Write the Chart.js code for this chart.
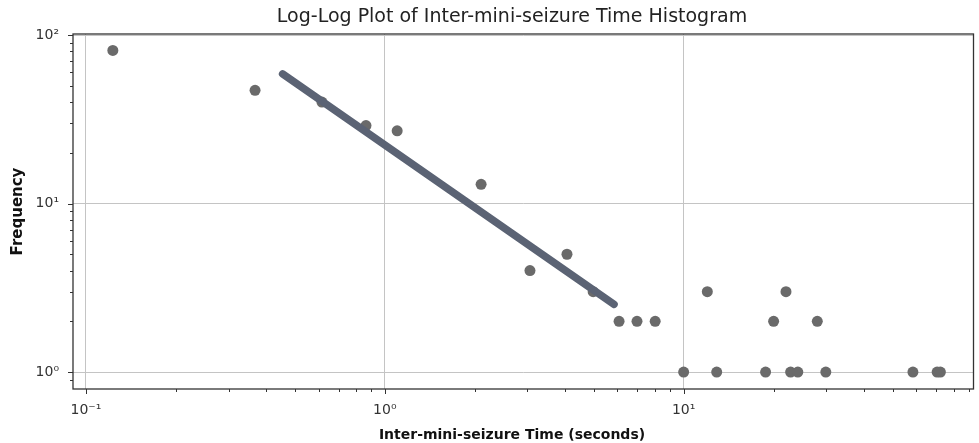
<!DOCTYPE html>
<html>
<head>
<meta charset="utf-8">
<script src="https://cdn.jsdelivr.net/npm/chart.js@4/dist/chart.umd.min.js"></script>
<style>
  html, body { margin: 0; padding: 0; background: #fff; }
  #wrap { width: 979px; height: 443px; }
</style>
</head>
<body>
<div id="wrap"><canvas id="chart" width="979" height="443"></canvas></div>
<script>
// inter-event times (seconds) and histogram counts
const times = [0.123, 0.368, 0.616, 0.865, 1.10, 2.10, 3.06, 4.07, 4.98, 6.08, 6.98, 8.03,
               10.0, 12.0, 12.9, 18.8, 20.0, 22.0, 22.8, 24.1, 28.0, 29.9, 58.5, 70.5, 72.3];
const counts = [81, 47, 40, 29, 27, 13, 4, 5, 3, 2, 2, 2,
                1, 3, 1, 1, 2, 3, 1, 1, 2, 1, 1, 1, 1];

// power-law fit, end points
const fitX = [0.455, 5.85];
const fitY = [58.8, 2.52];

const xTickLabels = { '-1': '10\u207B\u00B9', '0': '10\u2070', '1': '10\u00B9' };
const yTickLabels = { '0': '10\u2070', '1': '10\u00B9', '2': '10\u00B2' };

const titleText = 'Log-Log Plot of Inter-mini-seizure Time Histogram';
const xTitle = 'Inter-mini-seizure Time (seconds)';
const yTitle = 'Frequency';

function decade(v) {
    const e = Math.log10(v);
    return Math.abs(e - Math.round(e)) < 1e-6 ? Math.round(e) : null;
}

function isWholeMantissa(v) {
    const m = v / Math.pow(10, Math.floor(Math.log10(v) + 1e-9));
    return Math.abs(m - Math.round(m)) < 1e-6;
}

// frame, tick marks (major + minor) and the two centred titles
const frame = {
    id: 'frame',
    afterDraw(chart) {
        const ctx = chart.ctx;
        const a = chart.chartArea;
        ctx.save();
        ctx.strokeStyle = '#333';
        ctx.lineWidth = 1.3;
        ctx.strokeRect(a.left, a.top, a.right - a.left, a.bottom - a.top);

        ctx.lineWidth = 1;
        const xs = chart.scales.x;
        xs.ticks.forEach(t => {
            if (!isWholeMantissa(t.value)) return;
            const len = decade(t.value) !== null ? 5 : 3;
            const px = Math.round(xs.getPixelForValue(t.value)) + 0.5;
            ctx.beginPath();
            ctx.moveTo(px, a.bottom);
            ctx.lineTo(px, a.bottom + len);
            ctx.stroke();
        });
        const ys = chart.scales.y;
        ys.ticks.forEach(t => {
            if (!isWholeMantissa(t.value)) return;
            const len = decade(t.value) !== null ? 5 : 3;
            const py = Math.round(ys.getPixelForValue(t.value)) + 0.5;
            ctx.beginPath();
            ctx.moveTo(a.left, py);
            ctx.lineTo(a.left - len, py);
            ctx.stroke();
        });

        ctx.fillStyle = '#222';
        ctx.textAlign = 'center';
        ctx.textBaseline = 'middle';
        ctx.font = '19px "DejaVu Sans"';
        ctx.fillText(titleText, 512, 17);
        ctx.fillStyle = '#111';
        ctx.font = 'bold 14px "DejaVu Sans"';
        ctx.fillText(xTitle, 512, 435);
        ctx.restore();
    }
};

const ctx = document.getElementById('chart').getContext('2d');
new Chart(ctx, {
    type: 'scatter',
    data: {
        datasets: [
            {
                type: 'line',
                data: fitX.map((x, i) => ({ x: x, y: fitY[i] })),
                borderColor: '#5b6374',
                borderWidth: 7.5,
                borderCapStyle: 'round',
                pointRadius: 0,
                fill: false,
                order: 0
            },
            {
                data: times.map((x, i) => ({ x: x, y: counts[i] })),
                backgroundColor: '#6a6a6a',
                borderWidth: 0,
                pointRadius: 5.5,
                order: 1
            }
        ]
    },
    options: {
        responsive: false,
        animation: false,
        layout: { padding: { top: 34, right: 0, bottom: 0, left: 0 } },
        plugins: {
            legend: { display: false },
            tooltip: { enabled: false },
            title: { display: false }
        },
        scales: {
            x: {
                type: 'logarithmic',
                min: 0.0905,
                max: 93.3,
                afterFit(scale) {
                    scale.height = 54;
                    scale.paddingLeft = 0;
                    scale.paddingRight = 0;
                },
                border: { display: false },
                grid: {
                    color: c => (c.tick && decade(c.tick.value) !== null) ? '#c4c4c4' : 'transparent',
                    lineWidth: 1,
                    drawTicks: true,
                    tickLength: 5,
                    tickColor: 'transparent'
                },
                ticks: {
                    autoSkip: false,
                    maxRotation: 0,
                    padding: 8,
                    color: '#333',
                    font: { family: 'DejaVu Sans', size: 14 },
                    callback: v => {
                        const d = decade(v);
                        return d !== null && xTickLabels[d] ? xTickLabels[d] : '';
                    }
                }
            },
            y: {
                type: 'logarithmic',
                min: 0.793,
                max: 101.4,
                afterFit(scale) {
                    scale.width = 73;
                    scale.paddingTop = 0;
                    scale.paddingBottom = 0;
                },
                border: { display: false },
                grid: {
                    color: c => (c.tick && decade(c.tick.value) !== null) ? '#c4c4c4' : 'transparent',
                    lineWidth: 1,
                    drawTicks: true,
                    tickLength: 5,
                    tickColor: 'transparent'
                },
                title: {
                    display: true,
                    text: yTitle,
                    color: '#111',
                    font: { family: 'DejaVu Sans', size: 15, weight: 'bold' },
                    padding: { top: 9, bottom: 0 }
                },
                ticks: {
                    autoSkip: false,
                    padding: 9,
                    color: '#333',
                    font: { family: 'DejaVu Sans', size: 14 },
                    callback: v => {
                        const d = decade(v);
                        return d !== null && yTickLabels[d] ? yTickLabels[d] : '';
                    }
                }
            }
        }
    },
    plugins: [frame]
});
</script>
</body>
</html>
